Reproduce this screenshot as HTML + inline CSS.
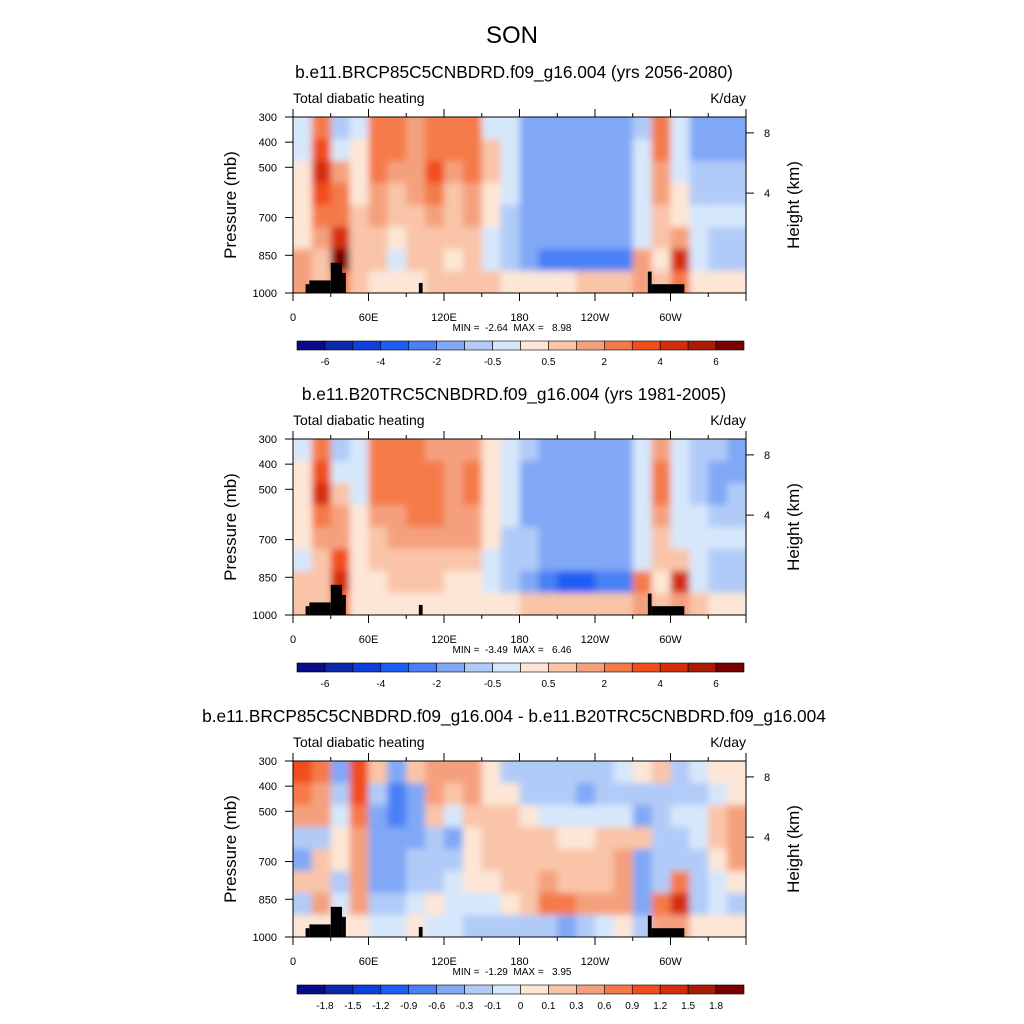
<!DOCTYPE html>
<html><head><meta charset="utf-8">
<style>
html,body{margin:0;padding:0;background:#fff;}
svg{display:block;font-family:"Liberation Sans",sans-serif;}
.pre{white-space:pre;}
</style></head>
<body>
<svg id="chart" width="1024" height="1024" viewBox="0 0 1024 1024" xmlns="http://www.w3.org/2000/svg">
<defs>
<filter id="soft" x="-5%" y="-10%" width="110%" height="120%"><feGaussianBlur stdDeviation="3.5"/></filter>
</defs>
<rect width="1024" height="1024" fill="#fff"/>
<text x="512" y="43" font-size="24" text-anchor="middle">SON</text>
</svg>
<script>
// ---- data ----
const panelTitles = [
  "b.e11.BRCP85C5CNBDRD.f09_g16.004 (yrs 2056-2080)",
  "b.e11.B20TRC5CNBDRD.f09_g16.004 (yrs 1981-2005)",
  "b.e11.BRCP85C5CNBDRD.f09_g16.004 - b.e11.B20TRC5CNBDRD.f09_g16.004"
];
const minMaxText = ["MIN =  -2.64  MAX =   8.98","MIN =  -3.49  MAX =   6.46","MIN =  -1.29  MAX =   3.95"];
const levelsAbs = [-6,-5,-4,-3,-2,-1,-0.5,0,0.5,1,2,3,4,5,6];
const levelsDiff = [-1.8,-1.5,-1.2,-0.9,-0.6,-0.3,-0.1,0,0.1,0.3,0.6,0.9,1.2,1.5,1.8];
const labelsAbs = ["-6","","-4","","-2","","-0.5","","0.5","","2","","4","","6"];
const labelsDiff = ["-1.8","-1.5","-1.2","-0.9","-0.6","-0.3","-0.1","0","0.1","0.3","0.6","0.9","1.2","1.5","1.8"];
const palette = ["#0a0a8c","#0b28ad","#0c40de","#1d5df5","#4a80f5","#80a8f6","#b1cbf8","#d7e7fb","#fde6d6","#f9c4a8","#f5a07d","#f57a48","#f24e1c","#d42e08","#ac1c04","#7c0000"];
const lonTicks = [0,60,120,180,240,300];
const lonLabels = ["0","60E","120E","180","120W","60W"];
const presTicks = [300,400,500,700,850,1000];
const heightTicks = [8,4];
// grid: 24 longitude columns (15 deg), 8 vertical rows (top -> bottom)
const grid1 = [
 [-0.3,-0.3,0.2,0.2,0.3,0.3,1.5,1.5],
 [2,3,4,3,2,1,0.8,0.8],
 [-0.8,-0.3,1,2,2,4,6,2],
 [-0.3,0.3,0.3,0.3,0.8,0.8,0.8,0.5],
 [2.5,2.5,2.5,1.5,1,0.8,0.6,0.4],
 [2,2,1.5,0.8,0.8,0.3,-0.3,0.4],
 [1.5,1.5,1.5,1,0.8,0.8,0.8,0.3],
 [2.5,2.5,3,2,1.5,0.8,0.8,0.6],
 [2,2,1.5,0.8,0.8,0.6,0.3,0.5],
 [2.5,2.5,2.5,1.5,1,0.8,0.8,0.6],
 [-0.3,0.6,0.6,0.3,0.3,-0.3,-0.3,0.5],
 [-0.3,-0.3,-0.3,-0.3,-0.6,-0.8,-0.6,0.4],
 [-1.5,-1.5,-1.5,-1.5,-1.5,-1.2,-1.5,0.3],
 [-1.5,-1.5,-1.5,-1.5,-1.5,-1.5,-2.5,0.4],
 [-1.5,-1.5,-1.5,-1.5,-1.5,-1.5,-2.5,0.4],
 [-1.5,-1.5,-1.5,-1.5,-1.5,-1.5,-2.5,0.5],
 [-1.5,-1.5,-1.5,-1.5,-1.5,-1.5,-2.5,0.6],
 [-1.5,-1.5,-1.5,-1.5,-1.5,-1.5,-2.2,0.8],
 [-0.6,-0.3,-0.3,-0.3,-0.3,-0.5,1,1.5],
 [2,2,1.5,1,0.8,0.6,0.4,0.8],
 [-0.3,-0.3,-0.3,0.3,0.3,1,4,2],
 [-1.2,-1.2,-1,-0.6,-0.3,-0.5,-0.3,0.3],
 [-1.2,-1.2,-1,-0.6,-0.3,-0.6,-0.8,0.3],
 [-1.2,-1.2,-1,-0.6,-0.3,-0.6,-0.8,0.3]
];
const grid2 = [
 [-0.3,0.3,0.3,0.2,0.2,-0.2,0.8,0.5],
 [2,3,4,2.5,1.5,0.8,0.8,0.8],
 [-0.6,-0.3,0.6,1.5,1.5,3,4,2],
 [-0.3,-0.3,-0.3,0.3,0.3,0.3,0.3,0.3],
 [2.5,2.5,2.5,1.5,0.8,0.6,0.3,0.3],
 [2.5,2.5,2.5,1.5,1,0.8,0.6,0.3],
 [2.5,2.5,2.5,2,1.5,0.8,0.8,0.3],
 [1.5,2,2.5,2,1.5,0.8,0.6,0.3],
 [1.5,1.5,1.5,1.5,1.5,0.8,0.3,0.3],
 [1.5,2,2,1.5,1,0.6,0.3,0.3],
 [0.3,0.3,0.3,0.3,0.3,-0.3,-0.3,0.3],
 [-0.3,-0.3,-0.3,-0.3,-0.6,-0.8,-0.8,0.3],
 [-0.6,-1.5,-1.5,-1.5,-1,-1,-2,0.5],
 [-1.5,-1.5,-1.5,-1.5,-1.5,-1.5,-2.5,0.5],
 [-1.5,-1.5,-1.5,-1.5,-1.5,-1.5,-3.5,0.5],
 [-1.5,-1.5,-1.5,-1.5,-1.5,-1.5,-3.5,0.5],
 [-1.5,-1.5,-1.5,-1.5,-1.5,-1.5,-2.5,0.6],
 [-1.5,-1.5,-1.5,-1.5,-1.5,-1.5,-2.5,0.8],
 [-0.3,-0.3,-0.3,-0.3,-0.3,-0.3,2,1.5],
 [1.5,2,2,1,0.8,0.6,0.3,0.8],
 [-0.3,-0.3,-0.3,-0.3,-0.3,0.5,4,1],
 [-1,-1,-0.6,-0.3,-0.3,-0.3,-0.3,0.5],
 [-1,-1.5,-1.5,-0.6,-0.3,-0.6,-1,0.3],
 [-1.5,-1.5,-1,-0.6,-0.3,-1,-1,0.3]
];
const grid3 = [
 [1.0,0.8,0.35,-0.2,-0.4,0.15,-0.2,0.05],
 [0.8,0.5,0.35,-0.2,0.2,0.2,0.4,0.05],
 [-0.4,-0.2,-0.05,0.05,0.05,-0.2,-0.05,0.05],
 [0.9,0.9,0.7,0.5,0.5,0.5,0.35,0.05],
 [0.15,-0.2,-0.4,-0.4,-0.4,-0.4,-0.2,-0.05],
 [-0.5,-0.9,-0.7,-0.5,-0.4,-0.4,-0.2,-0.05],
 [0.15,-0.4,-0.5,-0.4,-0.2,-0.2,-0.05,0.05],
 [0.5,0.35,0.15,-0.2,-0.2,-0.2,0.05,-0.05],
 [0.35,0.15,-0.05,-0.4,-0.2,-0.05,-0.05,-0.05],
 [0.35,0.35,0.2,0.05,0.05,0.05,-0.05,-0.2],
 [0.05,0.05,0.2,0.2,0.2,0.05,-0.05,-0.2],
 [-0.2,0.05,0.2,0.2,0.2,0.2,0.05,-0.2],
 [-0.2,-0.2,0.05,0.2,0.2,0.2,0.2,-0.2],
 [-0.2,-0.2,-0.05,0.2,0.2,0.35,0.6,-0.2],
 [-0.2,-0.2,-0.05,0.05,0.2,0.2,0.7,-0.35],
 [-0.2,-0.35,-0.05,0.05,0.2,0.2,0.4,-0.2],
 [-0.2,-0.2,-0.05,0.2,0.2,0.2,0.4,-0.05],
 [-0.05,-0.2,-0.05,0.2,0.35,0.35,0.4,0.05],
 [0.05,-0.2,-0.35,0.2,-0.35,-0.35,-0.35,-0.2],
 [0.15,-0.2,-0.2,-0.2,-0.2,-0.2,0.6,0.4],
 [-0.2,-0.2,-0.05,-0.2,-0.2,0.6,1.3,0.4],
 [-0.05,-0.2,-0.05,-0.05,-0.2,-0.2,-0.2,0.05],
 [0.05,-0.05,0.2,0.2,0.05,-0.05,-0.05,0.05],
 [0.05,0.05,0.35,0.35,0.35,0.05,-0.2,0.05]
];
const grids = [grid1, grid2, grid3];
// topography blocks: [lonStart, lonEnd, pressureTop]
const topoLon0 = [10,13,30,39,100,282,285];
const topoLon1 = [13,30,39,42,103,285,311];
const topoP = [965,950,880,920,960,915,965];

// ---- layout ----
const NS = "http://www.w3.org/2000/svg";
const svg = document.getElementById('chart');
const X0 = 293, X1 = 746, PH = 176;
const panelTops = [117, 439, 761];
function xScale(lon){ return X0 + lon/360*(X1-X0); }
function yScale(p, top){ // linear pressure
  return top + (p-300)/700*PH;
}
function yHeight(km, top){
  return yScale(1000*Math.exp(-km/7.9), top);
}
function mk(tag, attrs, parent){
  const e = document.createElementNS(NS, tag);
  for (const k in attrs) e.setAttribute(k, attrs[k]);
  (parent||svg).appendChild(e); return e;
}
function colorFor(v, levels){
  let i=0; while(i<levels.length && v>=levels[i]) i++;
  return palette[i];
}

panelTops.forEach((top, pi) => {
  const levels = pi===2 ? levelsDiff : levelsAbs;
  const labels = pi===2 ? labelsDiff : labelsAbs;
  const g = mk('g', {});
  
  

  const t = mk('text', {x:514, y: top-39, 'font-size':17.3, 'text-anchor':'middle'}, g);
  t.textContent = panelTitles[pi];
  
  

  const lt = mk('text', {x: X0, y: top-14, 'font-size':14}, g);
  lt.textContent = "Total diabatic heating";
  
  
  const rt = mk('text', {x: X1, y: top-14, 'font-size':14, 'text-anchor':'end'}, g);
  rt.textContent = "K/day";
  
  

  // clip + blurred cells
  const cid = 'clip' + pi;
  const cp = mk('clipPath', {id: cid}, g);
  mk('rect', {x:X0, y:top, width:X1-X0, height:PH}, cp);
  const outer = mk('g', {'clip-path': `url(#${cid})`}, g);
  const cg = mk('g', {filter:'url(#soft)'}, outer);
  
  
  const grid = grids[pi];
  const nc = grid.length, nr = grid[0].length;
  grid.forEach((col, ci) => {
    col.forEach((v, ri) => {
      let x = xScale(ci*360/nc), x2 = xScale((ci+1)*360/nc);
      let y = top + ri*PH/nr, y2 = top + (ri+1)*PH/nr;
      if (ci===0) x -= 12; if (ci===nc-1) x2 += 12;
      if (ri===0) y -= 12; if (ri===nr-1) y2 += 12;
      const r = mk('rect', {x:x, y:y, width:(x2-x)+0.6, height:(y2-y)+0.6, fill: colorFor(v, levels)}, cg);
      
      
    });
  });
  // topography
  topoLon0.forEach((l0, k) => {
    const x = xScale(l0), x2 = xScale(topoLon1[k]);
    const y = yScale(topoP[k], top);
    const r = mk('rect', {x:x, y:y, width:x2-x, height: top+PH-y, fill:'#000'}, g);
    
    
  });
  // frame
  const fr = mk('rect', {x:X0, y:top, width:X1-X0, height:PH, fill:'none', stroke:'#000', 'stroke-width':1}, g);
  
  

  // x ticks
  for (let lon=0; lon<=360; lon+=30){
    const x = xScale(lon), major = lon%60===0;
    const len = major?8:4;
    mk('line', {x1:x, x2:x, y1:top+PH, y2:top+PH+len, stroke:'#000'}, g);
    mk('line', {x1:x, x2:x, y1:top, y2:top-len, stroke:'#000'}, g);
  }
  lonTicks.forEach((lon, k) => {
    const tx = mk('text', {x:xScale(lon), y: top+PH+28, 'font-size':11, 'text-anchor':'middle'}, g);
    tx.textContent = lonLabels[k];
    
    
  });
  // y ticks
  presTicks.forEach(p => {
    const y = yScale(p, top);
    mk('line', {x1:X0-8, x2:X0, y1:y, y2:y, stroke:'#000'}, g);
    const ty = mk('text', {x: X0-16, y: y+4, 'font-size':11, 'text-anchor':'end'}, g);
    ty.textContent = p;
    
    
  });
  const yt = mk('text', {x:0, y:0, 'font-size':17, 'text-anchor':'middle', transform:`translate(236,${top+PH/2}) rotate(-90)`}, g);
  yt.textContent = "Pressure (mb)";
  
  
  // right axis
  heightTicks.forEach(km => {
    const y = yHeight(km, top);
    mk('line', {x1:X1, x2:X1+8, y1:y, y2:y, stroke:'#000'}, g);
    const ty = mk('text', {x: X1+18, y: y+4, 'font-size':11}, g);
    ty.textContent = km;
    
    
  });
  const ht = mk('text', {x:0, y:0, 'font-size':17, 'text-anchor':'middle', transform:`translate(799,${top+PH/2}) rotate(-90)`}, g);
  ht.textContent = "Height (km)";
  
  

  const mm = mk('text', {x:512, y: top+PH+38, 'font-size':10, 'text-anchor':'middle', 'class':'pre'}, g);
  mm.textContent = minMaxText[pi];
  
  

  // colorbar
  const cb = mk('g', {}, g);
  
  
  const cbX0 = 297, cbX1 = 744, cbY = top+PH+48, cbH = 9;
  const bw = (cbX1-cbX0)/palette.length;
  palette.forEach((c, k) => {
    const r = mk('rect', {x: cbX0+k*bw, y: cbY, width: bw, height: cbH, fill:c, stroke:'#000', 'stroke-width':0.6}, cb);
    
    
  });
  labels.forEach((lab, k) => {
    if (!lab) return;
    const tl = mk('text', {x: cbX0+(k+1)*bw, y: cbY+24, 'font-size':10, 'text-anchor':'middle'}, cb);
    tl.textContent = lab;
    
    
  });
});
</script>
</body></html>
